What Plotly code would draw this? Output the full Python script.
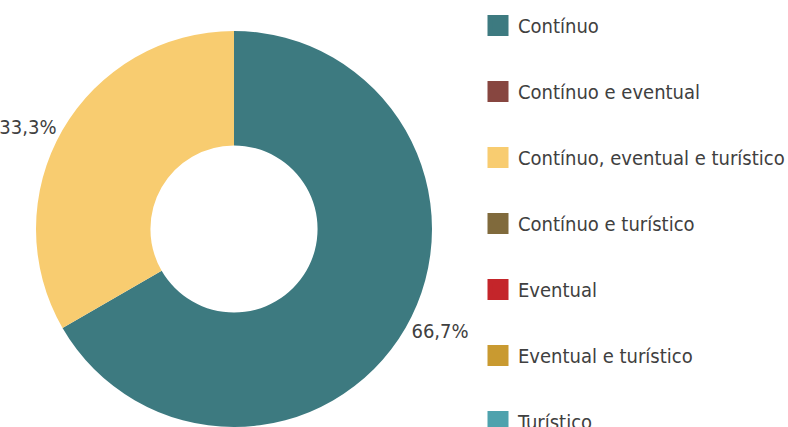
import plotly.graph_objects as go

labels = ["Contínuo", "Contínuo e eventual", "Contínuo, eventual e turístico",
          "Contínuo e turístico", "Eventual", "Eventual e turístico", "Turístico"]
values = [2, 0, 1, 0, 0, 0, 0]
colors = ["#3d7a80", "#874640", "#f8cc70", "#806a3c", "#c4252a", "#c99a30", "#4ea2ad"]

W, H = 788, 427
FONT = "DejaVu Sans Condensed, Roboto, sans-serif"
TXT = "#404040"

templates = ["%{percent:.1%}" if v > 0 else "" for v in values]

fig = go.Figure()
fig.add_trace(go.Pie(
    labels=labels,
    values=values,
    marker=dict(colors=colors, line=dict(width=0)),
    hole=0.422,
    sort=False,
    direction="clockwise",
    rotation=0,
    textposition="outside",
    texttemplate=templates,
    textfont=dict(family=FONT, size=20, color=TXT),
    domain=dict(x=[36 / W, 432 / W], y=[0, 1 - 31 / H]),
    showlegend=False,
))

# legend entries (one per category, same colours as the slices)
for i, (lab, col) in enumerate(zip(labels, colors)):
    fig.add_trace(go.Scatter(
        x=[None], y=[None], mode="markers", name=lab,
        legendgroup=f"g{i}",
        marker=dict(symbol="square", size=26, color=col,
                    line=dict(color=col, width=5)),
        hoverinfo="skip",
    ))

fig.update_layout(
    width=W, height=H,
    margin=dict(l=0, r=0, t=0, b=0, autoexpand=False),
    paper_bgcolor="white",
    plot_bgcolor="white",
    separators=",.",
    showlegend=True,
    xaxis=dict(visible=False),
    yaxis=dict(visible=False),
    legend=dict(
        xref="container", yref="container",
        x=478 / W, xanchor="left",
        y=1 - 6 / H, yanchor="top",
        font=dict(family=FONT, size=20, color=TXT),
        itemsizing="trace",
        tracegroupgap=37,
        maxheight=1000,
        bgcolor="rgba(0,0,0,0)",
    ),
)

fig.write_html(
    "out.html",
    config={"displayModeBar": False},
    post_script="document.body.style.margin='0';document.body.style.overflow='hidden';",
)
